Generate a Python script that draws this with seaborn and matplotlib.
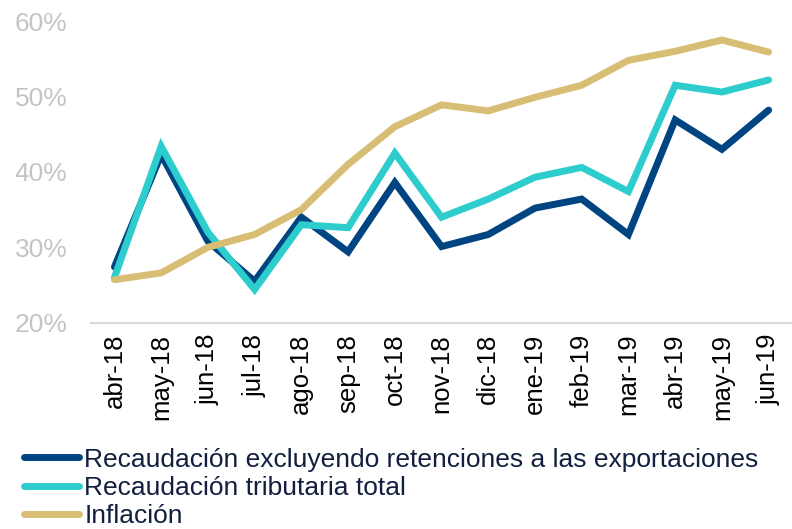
import pandas as pd
import matplotlib
matplotlib.use('Agg')
import matplotlib.pyplot as plt
import seaborn as sns
from matplotlib.ticker import FixedLocator, PercentFormatter

# Data (% yoy)
months = ['abr-18', 'may-18', 'jun-18', 'jul-18', 'ago-18', 'sep-18', 'oct-18', 'nov-18',
          'dic-18', 'ene-19', 'feb-19', 'mar-19', 'abr-19', 'may-19', 'jun-19']
rec_sin_ret = [27.4, 42.3, 30.8, 25.5, 34.0, 29.4, 38.6, 30.1, 31.7, 35.2, 36.4, 31.7, 46.9, 43.0, 48.2]
rec_total = [26.0, 43.4, 32.0, 24.4, 33.0, 32.6, 42.5, 34.0, 36.4, 39.3, 40.6, 37.4, 51.5, 50.6, 52.2]
inflacion = [25.7, 26.6, 30.0, 31.7, 35.0, 41.0, 46.0, 48.9, 48.1, 49.9, 51.5, 54.8, 56.0, 57.5, 55.9]

labels = ['Recaudación excluyendo retenciones a las exportaciones',
          'Recaudación tributaria total',
          'Inflación']
colors = ['#004481', '#2dcccd', '#d8be75']

df = pd.DataFrame({'mes': months * 3,
                   'valor': rec_sin_ret + rec_total + inflacion,
                   'serie': [labels[0]] * 15 + [labels[1]] * 15 + [labels[2]] * 15})

sns.set_style('white')
plt.rcParams['font.family'] = ['Liberation Sans', 'DejaVu Sans']

fig = plt.figure(figsize=(7.92, 5.29), dpi=100)
ax = fig.add_axes([0.115, 0.39, 0.885, 0.57])

sns.lineplot(data=df, x='mes', y='valor', hue='serie', palette=colors,
             linewidth=5, ax=ax, legend=False, sort=False)
for ln in ax.lines:
    ln.set_solid_capstyle('round')
    ln.set_solid_joinstyle('miter')

ax.set_ylim(20, 60)
ax.set_xlim(-0.5, len(months) - 0.5)
ax.set_yticks([20, 30, 40, 50, 60])
ax.yaxis.set_major_formatter(PercentFormatter(decimals=0))
ax.tick_params(axis='y', length=0, labelsize=19, labelcolor='#c4c4c4', pad=17)

ax.set_xticks(range(len(months)))
ax.set_xticklabels(months, rotation=90, fontsize=18.5, color='black')
ax.tick_params(axis='x', which='major', length=0, pad=8)
ax.xaxis.set_minor_locator(FixedLocator([i - 0.5 for i in range(len(months) + 1)]))
ax.tick_params(axis='x', which='minor', length=8, width=1.5, color='#d9d9d9')

ax.set_xlabel('')
ax.set_ylabel('')
for s in ['left', 'right', 'top']:
    ax.spines[s].set_visible(False)
ax.spines['bottom'].set_color('#d9d9d9')
ax.spines['bottom'].set_linewidth(1.5)

handles = [plt.Line2D([], [], color=c, linewidth=5, solid_capstyle='round') for c in colors]
leg = fig.legend(handles, labels, loc='upper left', bbox_to_anchor=(0.03, 0.154),
                 frameon=False, handlelength=2.1, handletextpad=0.2,
                 labelspacing=0.16, borderaxespad=0, borderpad=0,
                 prop={'family': 'Liberation Sans', 'size': 19})
for t in leg.get_texts():
    t.set_color('#121f3f')

fig.savefig('out.png', dpi=100)
